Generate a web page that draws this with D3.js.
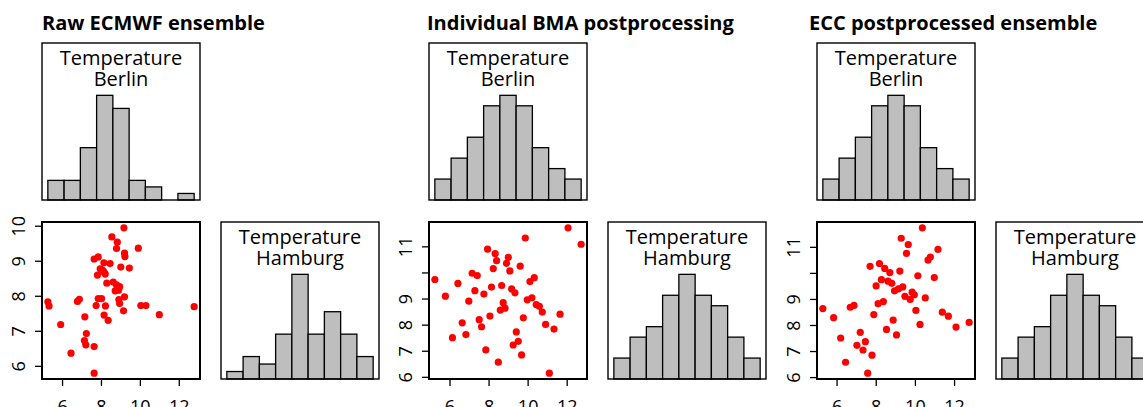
<!DOCTYPE html>
<html>
<head>
<meta charset="utf-8">
<script src="https://cdn.jsdelivr.net/npm/d3@7"></script>
<style>
  body { margin: 0; background: #fff; }
  text { font-family: "Open Sans", sans-serif; fill: #000; }
</style>
</head>
<body>
<svg id="chart" width="1143" height="407"></svg>
<script>
// titles of the three panels
const titles = ["Raw ECMWF ensemble", "Individual BMA postprocessing", "ECC postprocessed ensemble"]

// raw ensemble: Berlin (x) vs Hamburg (y)
const rawBerlin = [9.18, 8.56, 8.84, 8.80, 9.21, 9.23, 9.92, 7.65, 7.86, 8.15, 8.47, 7.96, 9.02, 9.46, 8.15, 7.82, 8.22, 8.30, 8.63, 8.80,
  8.96, 8.90, 8.73, 7.86, 8.03, 9.21, 8.92, 8.96, 7.75, 8.23, 9.16, 10.05, 10.31, 12.79, 11.00, 5.27, 5.33, 6.79, 6.89, 7.17,
  5.93, 7.25, 7.15, 7.22, 7.65, 6.46, 7.65, 8.16, 8.37, 8.08]
const rawHamburg = [9.94, 9.68, 9.53, 9.35, 9.22, 9.12, 9.36, 9.05, 9.11, 8.94, 8.92, 8.77, 8.82, 8.79, 8.68, 8.59, 8.62, 8.36, 8.39, 8.31,
  8.26, 8.16, 8.14, 7.92, 7.92, 7.97, 7.89, 7.78, 7.72, 7.71, 7.57, 7.72, 7.72, 7.69, 7.46, 7.83, 7.71, 7.84, 7.90, 7.40,
  7.18, 6.92, 6.72, 6.60, 6.55, 6.36, 5.79, 7.45, 7.30, 8.73]

// BMA postprocessed samples
const bmaBerlin = [12.07, 12.74, 9.88, 7.95, 8.34, 8.41, 9.01, 8.92, 8.24, 9.09, 9.62, 7.16, 7.42, 5.25, 6.43, 7.30, 8.15, 8.67, 9.18, 9.35,
  10.12, 10.34, 7.76, 5.79, 6.99, 9.98, 10.22, 10.44, 10.60, 10.75, 11.66, 8.75, 8.84, 8.60, 8.07, 9.78, 7.52, 7.64, 6.65, 6.84,
  6.15, 10.92, 11.35, 9.42, 9.52, 9.26, 7.86, 9.69, 8.50, 11.11]
const bmaHamburg = [11.71, 11.08, 11.32, 10.89, 10.72, 10.45, 10.58, 10.35, 10.15, 10.06, 10.24, 9.97, 9.88, 9.73, 9.58, 9.30, 9.44, 9.50, 9.37, 9.22,
  9.65, 9.80, 9.17, 9.09, 8.90, 8.95, 9.03, 8.77, 8.70, 8.48, 8.40, 8.84, 8.63, 8.56, 8.33, 8.26, 8.19, 7.92, 8.07, 7.62,
  7.50, 8.01, 7.83, 7.72, 7.36, 7.22, 7.03, 6.84, 6.56, 6.14]

// ECC postprocessed ensemble
const eccBerlin = [10.38, 9.30, 9.66, 9.57, 11.18, 10.79, 10.67, 7.71, 8.19, 8.46, 8.72, 9.23, 10.15, 10.99, 8.29, 8.63, 8.82, 8.02, 8.96, 9.16,
  9.38, 9.86, 9.97, 9.49, 9.76, 10.53, 8.12, 8.39, 6.70, 6.89, 5.30, 5.85, 7.90, 10.05, 8.89, 8.55, 9.06, 10.26, 11.40, 11.71,
  12.10, 12.77, 6.21, 7.21, 7.47, 7.04, 7.35, 7.81, 6.46, 7.59]
const eccHamburg = [11.73, 11.33, 11.09, 10.75, 10.90, 10.61, 10.49, 10.25, 10.36, 10.17, 10.01, 10.07, 9.89, 9.82, 9.74, 9.68, 9.60, 9.50, 9.31, 9.39,
  9.46, 9.26, 9.16, 9.10, 8.98, 9.04, 8.82, 8.90, 8.68, 8.75, 8.63, 8.28, 8.40, 8.56, 8.19, 7.83, 7.62, 8.02, 8.49, 8.34,
  7.92, 8.10, 7.50, 7.72, 7.36, 7.22, 7.04, 6.84, 6.57, 6.15]

// histogram counts (9 equal bins between min and max)
const rawBerlinCounts = [3, 3, 8, 16, 14, 3, 2, 0, 1]
const rawHamburgCounts = [1, 3, 2, 6, 14, 6, 9, 6, 3]
const bmaBerlinCounts = [2, 4, 6, 9, 10, 9, 5, 3, 2]
const bmaHamburgCounts = [2, 4, 5, 8, 10, 8, 7, 4, 2]
const eccBerlinCounts = [2, 4, 6, 9, 10, 9, 5, 3, 2]
const eccHamburgCounts = [2, 4, 5, 8, 10, 8, 7, 4, 2]

// axis ticks
const xTicks = [6, 8, 10, 12]
const rawYTicks = [6, 7, 8, 9, 10]
const rawYLabels = [6, 7, 8, 9, 10]
const ppYTicks = [6, 7, 8, 9, 10, 11]
const ppYLabels = [6, 7, 8, 9, 11]

const panels = [
  {title: titles[0], bx: rawBerlin, hy: rawHamburg, bc: rawBerlinCounts, hc: rawHamburgCounts, yt: rawYTicks, yl: rawYLabels},
  {title: titles[1], bx: bmaBerlin, hy: bmaHamburg, bc: bmaBerlinCounts, hc: bmaHamburgCounts, yt: ppYTicks, yl: ppYLabels},
  {title: titles[2], bx: eccBerlin, hy: eccHamburg, bc: eccBerlinCounts, hc: eccHamburgCounts, yt: ppYTicks, yl: ppYLabels}
]

const panelLeft = [42, 429, 817]
const titleLeft = [42, 427, 809]
const boxW = 158, boxH = 157
const topHistY = 43, lowY = 222, gap = 179

const svg = d3.select("#chart")

// R style range: data extent stretched by 4%
function padded(v) {
  const e = d3.extent(v), p = (e[1] - e[0]) * 0.04
  return [e[0] - p, e[1] + p]
}

function drawHist(g, values, counts, x0, y0, label) {
  const ext = d3.extent(values)
  const x = d3.scaleLinear().domain(padded(values)).range([x0, x0 + boxW])
  const y = d3.scaleLinear().domain([0, d3.max(counts) * 1.5]).range([y0 + boxH, y0])
  const step = (ext[1] - ext[0]) / counts.length

  g.selectAll(null)
    .data(counts)
    .enter()
    .append("rect")
    .attr("x", (d, i) => x(ext[0] + i * step))
    .attr("width", (d, i) => x(ext[0] + (i + 1) * step) - x(ext[0] + i * step))
    .attr("y", d => y(d))
    .attr("height", d => y(0) - y(d))
    .attr("fill", "#bebebe")
    .attr("stroke", "#000")
    .attr("stroke-width", 1.3)

  g.append("rect")
    .attr("x", x0).attr("y", y0)
    .attr("width", boxW).attr("height", boxH)
    .attr("fill", "none")
    .attr("stroke", "#000")
    .attr("stroke-width", 1.4)

  g.selectAll(null)
    .data(["Temperature", label])
    .enter()
    .append("text")
    .attr("x", x0 + boxW / 2)
    .attr("y", (d, i) => y0 + 21.5 + i * 21)
    .attr("text-anchor", "middle")
    .attr("font-size", 20)
    .text(d => d)
}

panels.forEach((p, i) => {
  const left = panelLeft[i]
  const g = svg.append("g")

  g.append("text")
    .attr("x", titleLeft[i])
    .attr("y", 30)
    .attr("font-size", 20)
    .attr("font-weight", "bold")
    .text(p.title)

  drawHist(g, p.bx, p.bc, left, topHistY, "Berlin")
  drawHist(g, p.hy, p.hc, left + gap, lowY, "Hamburg")

  // scatter
  const x = d3.scaleLinear().domain(padded(p.bx)).range([left, left + boxW])
  const y = d3.scaleLinear().domain(padded(p.hy)).range([lowY + boxH, lowY])

  g.selectAll(null)
    .data(p.bx)
    .enter()
    .append("circle")
    .attr("cx", d => x(d))
    .attr("cy", (d, k) => y(p.hy[k]))
    .attr("r", 3.6)
    .attr("fill", "#ff0000")

  const xAxis = g.append("g")
    .attr("transform", `translate(0,${lowY + boxH})`)
    .call(d3.axisBottom(x).tickValues(xTicks).tickSize(7).tickPadding(14).tickSizeOuter(0))
  xAxis.select(".domain").remove()
  xAxis.selectAll("line").attr("stroke-width", 1.3)
  xAxis.selectAll("text").attr("font-size", 18).attr("font-family", "'Open Sans', sans-serif").attr("dy", "0.71em")

  const yAxis = g.append("g")
    .attr("transform", `translate(${left},0)`)
    .call(d3.axisLeft(y).tickValues(p.yt).tickSize(7).tickFormat(d => p.yl.includes(d) ? d : ""))
  yAxis.select(".domain").remove()
  yAxis.selectAll("line").attr("stroke-width", 1.3)
  yAxis.selectAll("text")
    .attr("font-size", 18)
    .attr("font-family", "'Open Sans', sans-serif")
    .attr("x", null).attr("dy", null)
    .attr("text-anchor", "middle")
    .attr("transform", "translate(-17,0) rotate(-90)")

  g.append("rect")
    .attr("x", left).attr("y", lowY)
    .attr("width", boxW).attr("height", boxH)
    .attr("fill", "none")
    .attr("stroke", "#000")
    .attr("stroke-width", 2)
})
</script>
</body>
</html>
